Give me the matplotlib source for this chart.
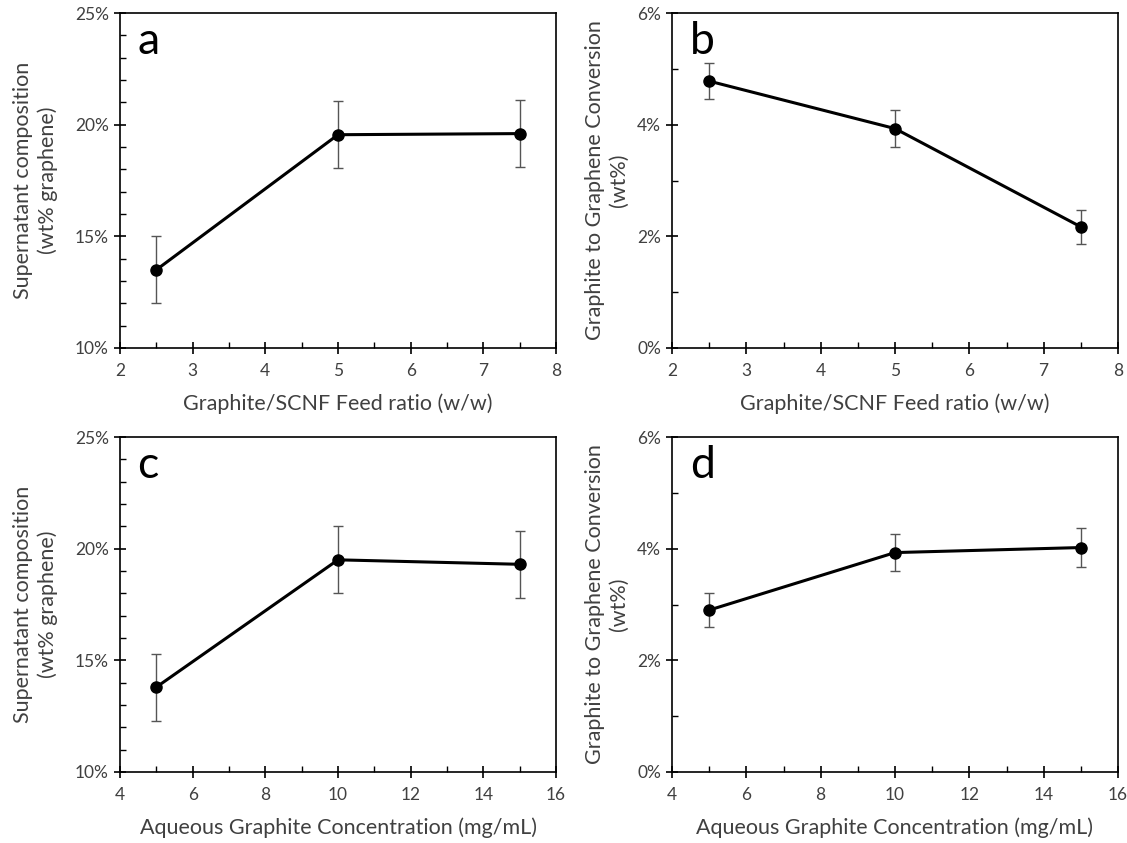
import matplotlib
matplotlib.use("Agg")
import matplotlib.pyplot as plt
from matplotlib.ticker import MultipleLocator, FuncFormatter

plt.rcParams['font.family'] = ['Lato', 'DejaVu Sans']

# Data
ratio_x = [2.5, 5, 7.5]
conc_x = [5, 10, 15]
a_y = [13.5, 19.55, 19.6]
a_err = [1.5, 1.5, 1.5]
b_y = [4.78, 3.93, 2.17]
b_err = [0.32, 0.33, 0.31]
c_y = [13.8, 19.5, 19.3]
c_err = [1.5, 1.5, 1.5]
d_y = [2.9, 3.93, 4.02]
d_err = [0.31, 0.33, 0.35]

xlab_ratio = "Graphite/SCNF Feed ratio (w/w)"
xlab_conc = "Aqueous Graphite Concentration (mg/mL)"
ylab_comp = "Supernatant composition\n(wt% graphene)"
ylab_conv = "Graphite to Graphene Conversion\n(wt%)"

W, H = 1127, 843
fig = plt.figure(figsize=(W / 100, H / 100), dpi=100)

def box(x0, y0, x1, y1):
    return [x0 / W, 1 - y1 / H, (x1 - x0) / W, (y1 - y0) / H]

txt = '#404040'
panels = [
    (box(120, 13, 556, 348), ratio_x, a_y, a_err, (2, 8), 1, 0.5, (10, 25), 5, 1, xlab_ratio, ylab_comp, 'a', -0.193),
    (box(672, 13, 1118, 348), ratio_x, b_y, b_err, (2, 8), 1, 0.5, (0, 6), 2, 1, xlab_ratio, ylab_conv, 'b', -0.146),
    (box(120, 437, 556, 772), conc_x, c_y, c_err, (4, 16), 2, 1, (10, 25), 5, 1, xlab_conc, ylab_comp, 'c', -0.193),
    (box(672, 437, 1118, 772), conc_x, d_y, d_err, (4, 16), 2, 1, (0, 6), 2, 1, xlab_conc, ylab_conv, 'd', -0.146),
]

for rect, x, y, e, xl, xmaj, xmin, yl, ymaj, ymin, xlab, ylab, letter, lx in panels:
    ax = fig.add_axes(rect)
    ax.errorbar(x, y, yerr=e, color='black', lw=2.2, marker='o', ms=8,
                ecolor='#555555', elinewidth=1.0, capsize=3.5, capthick=1.0)
    ax.set_xlim(*xl)
    ax.set_ylim(*yl)
    ax.xaxis.set_major_locator(MultipleLocator(xmaj))
    ax.xaxis.set_minor_locator(MultipleLocator(xmin))
    ax.yaxis.set_major_locator(MultipleLocator(ymaj))
    ax.yaxis.set_minor_locator(MultipleLocator(ymin))
    ax.yaxis.set_major_formatter(FuncFormatter(lambda v, p: f"{v:.0f}%"))
    ax.tick_params(which='major', direction='inout', length=9, width=1.2, colors='black',
                   labelcolor=txt, labelsize=12.5)
    ax.tick_params(axis='x', which='major', pad=6)
    ax.tick_params(which='minor', direction='in', length=4, width=1.0, colors='black')
    for s in ax.spines.values():
        s.set_linewidth(1.2)
    ax.set_xlabel(xlab, fontsize=15.5, color=txt, labelpad=11)
    ax.set_ylabel(ylab, fontsize=15.5, color=txt, linespacing=1.25, va='center')
    ax.yaxis.set_label_coords(lx, 0.5)
    ax.text(0.04, 0.975, letter, transform=ax.transAxes, fontsize=32, va='top', ha='left', color='black')

fig.savefig("out.png", dpi=100)
